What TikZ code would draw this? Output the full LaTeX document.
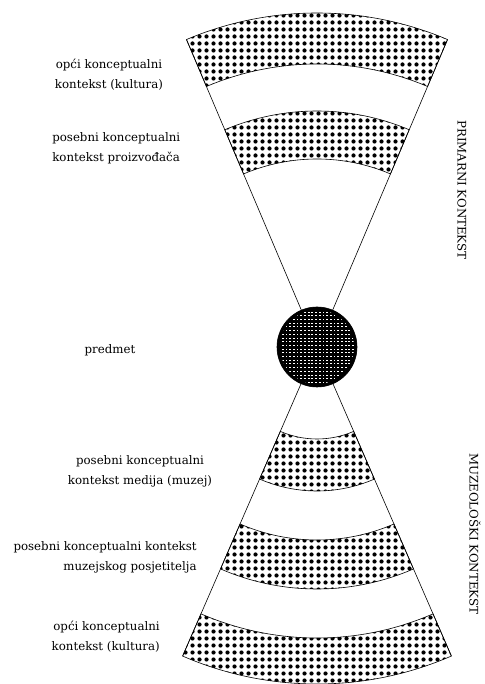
\documentclass[tikz,border=0pt]{standalone}
\usepackage{fontspec}
\setmainfont{DejaVu Serif}
\usepackage{tikz}
\usetikzlibrary{patterns}

\pgfdeclarepatternformonly{bigdots}{\pgfqpoint{-1pt}{-1pt}}{\pgfqpoint{8pt}{8pt}}{\pgfqpoint{7pt}{7pt}}{%
  \pgfpathcircle{\pgfqpoint{3.5pt}{3.5pt}}{2.1pt}\pgfusepath{fill}}
\pgfdeclarepatternformonly{moire}{\pgfqpoint{-1pt}{-1pt}}{\pgfqpoint{5pt}{5pt}}{\pgfqpoint{3.7pt}{3.7pt}}{%
  \pgfpathrectangle{\pgfqpoint{0.6pt}{1.4pt}}{\pgfqpoint{1.8pt}{0.9pt}}\pgfusepath{fill}}

\begin{document}
\begin{tikzpicture}[x=1pt,y=1pt,line width=0.6pt,
  every node/.style={font=\fontsize{11.8}{20}\selectfont,inner sep=0pt},
  band/.style={draw,pattern=bigdots}]
\useasboundingbox (-317,-337) rectangle (167,347);
% upper cone
\foreach \ri/\ro in {283/334,188/236}
  \path[band] (67:\ri pt) arc[start angle=67,end angle=113,radius=\ri pt]
    -- (113:\ro pt) arc[start angle=113,end angle=67,radius=\ro pt] -- cycle;
\draw (67:40pt) -- (67:334pt);
\draw (113:40pt) -- (113:334pt);
% lower cone
\foreach \ri/\ro in {92/144,193/242,291/337}
  \path[band] (246.5:\ri pt) arc[start angle=246.5,end angle=293.5,radius=\ri pt]
    -- (293.5:\ro pt) arc[start angle=293.5,end angle=246.5,radius=\ro pt] -- cycle;
\draw (246.5:40pt) -- (246.5:337pt);
\draw (293.5:40pt) -- (293.5:337pt);
% object
\fill (0,0) circle[radius=40pt];
\path[pattern=moire,pattern color=white] (0,0) circle[radius=37pt];
\draw (0,0) circle[radius=40pt];
% labels
\node[align=center] (opciA) at (-208,272) {opći konceptualni\\kontekst (kultura)};
\node[align=left,anchor=west] (proizv) at (-265,199) {posebni konceptualni\\kontekst proizvođača};
\node (predmet) at (-207,-3) {predmet};
\node[align=center] (medij) at (-177,-124) {posebni konceptualni\\kontekst medija (muzej)};
\node[align=right,anchor=east] (posjet) at (-120,-210) {posebni konceptualni kontekst\\muzejskog posjetitelja};
\node[align=right,anchor=east] (opciB) at (-157,-290) {opći konceptualni\\kontekst (kultura)};
\node[rotate=-90] (primarni) at (145,157) {PRIMARNI KONTEKST};
\node[rotate=-90] (muzeo) at (158,-187) {MUZEOLOŠKI KONTEKST};
\end{tikzpicture}
\end{document}
